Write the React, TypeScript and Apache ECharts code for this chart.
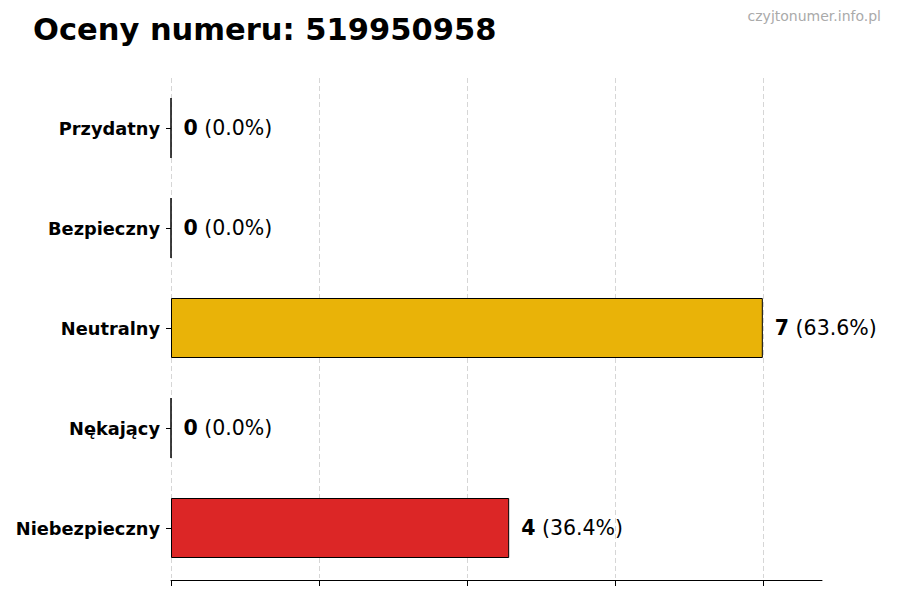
import React, { useEffect, useRef } from 'react';
import * as echarts from 'echarts';

const categories = ['Przydatny', 'Bezpieczny', 'Neutralny', 'Nękający', 'Niebezpieczny'];
const counts = [0, 0, 7, 0, 4];
const percents = ['0.0', '0.0', '63.6', '0.0', '36.4'];
const barColors = ['#22c55e', '#3b82f6', '#e9b308', '#f97316', '#dc2626'];
const tickValues = [0, 1.75, 3.5, 5.25, 7];

const TITLE = 'Oceny numeru: 519950958';
const SITE = 'czyjtonumer.info.pl';
const FONT = '"DejaVu Sans", sans-serif';
const GRID_COLOR = '#d6d6d6';

export default function App() {
  const chartRef = useRef<HTMLDivElement>(null);

  useEffect(() => {
    if (!chartRef.current) return;
    const chart = echarts.init(chartRef.current, undefined, { renderer: 'svg' });

    const option: echarts.EChartsOption = {
      animation: false,
      backgroundColor: '#ffffff',
      textStyle: { fontFamily: FONT },
      graphic: [
        {
          type: 'text',
          left: 33,
          top: 14,
          style: {
            text: TITLE,
            font: `bold 30.5px ${FONT}`,
            fill: '#000000',
          },
        },
        {
          type: 'text',
          right: 19,
          top: 9,
          style: {
            text: SITE,
            font: `14px ${FONT}`,
            fill: '#aaaaaa',
          },
        },
      ],
      grid: {
        left: 171,
        right: 78,
        top: 78,
        bottom: 22,
      },
      xAxis: {
        type: 'value',
        min: 0,
        max: 7.7,
        interval: 1.75,
        offset: 2,
        axisLine: { show: true, lineStyle: { color: '#000000', width: 1 } },
        axisTick: {
          show: true,
          length: 6,
          customValues: tickValues,
          lineStyle: { color: '#000000' },
        },
        axisLabel: { show: false },
        splitLine: {
          show: true,
          // last line sits on the axis max, which has no grid line
          lineStyle: {
            color: [GRID_COLOR, GRID_COLOR, GRID_COLOR, GRID_COLOR, GRID_COLOR, 'transparent'],
            type: [5, 3],
            width: 1,
          },
        },
      },
      yAxis: {
        type: 'category',
        data: categories,
        inverse: true,
        axisLine: { show: false },
        axisTick: {
          show: true,
          length: 5,
          alignWithLabel: true,
          lineStyle: { color: '#000000' },
        },
        axisLabel: {
          margin: 11,
          color: '#000000',
          fontFamily: FONT,
          fontWeight: 'bold',
          fontSize: 17.8,
        },
        splitLine: { show: false },
      },
      series: [
        {
          type: 'bar',
          barWidth: '60%',
          data: counts.map((v, i) => ({
            value: v,
            itemStyle: {
              color: barColors[i],
              borderColor: '#000000',
              borderWidth: 1,
            },
          })),
          label: {
            show: true,
            position: 'right',
            distance: 12,
            formatter: (p: any) => `{b|${counts[p.dataIndex]}}{n| (${percents[p.dataIndex]}%)}`,
            rich: {
              b: { fontFamily: FONT, fontWeight: 'bold', fontSize: 20.5, color: '#000000' },
              n: { fontFamily: FONT, fontSize: 20.5, color: '#000000' },
            },
          },
        },
      ],
    };

    chart.setOption(option);
    return () => {
      chart.dispose();
    };
  }, []);

  return (
    <div
      ref={chartRef}
      style={{ position: 'absolute', left: 0, top: 0, width: '900px', height: '600px' }}
    />
  );
}
